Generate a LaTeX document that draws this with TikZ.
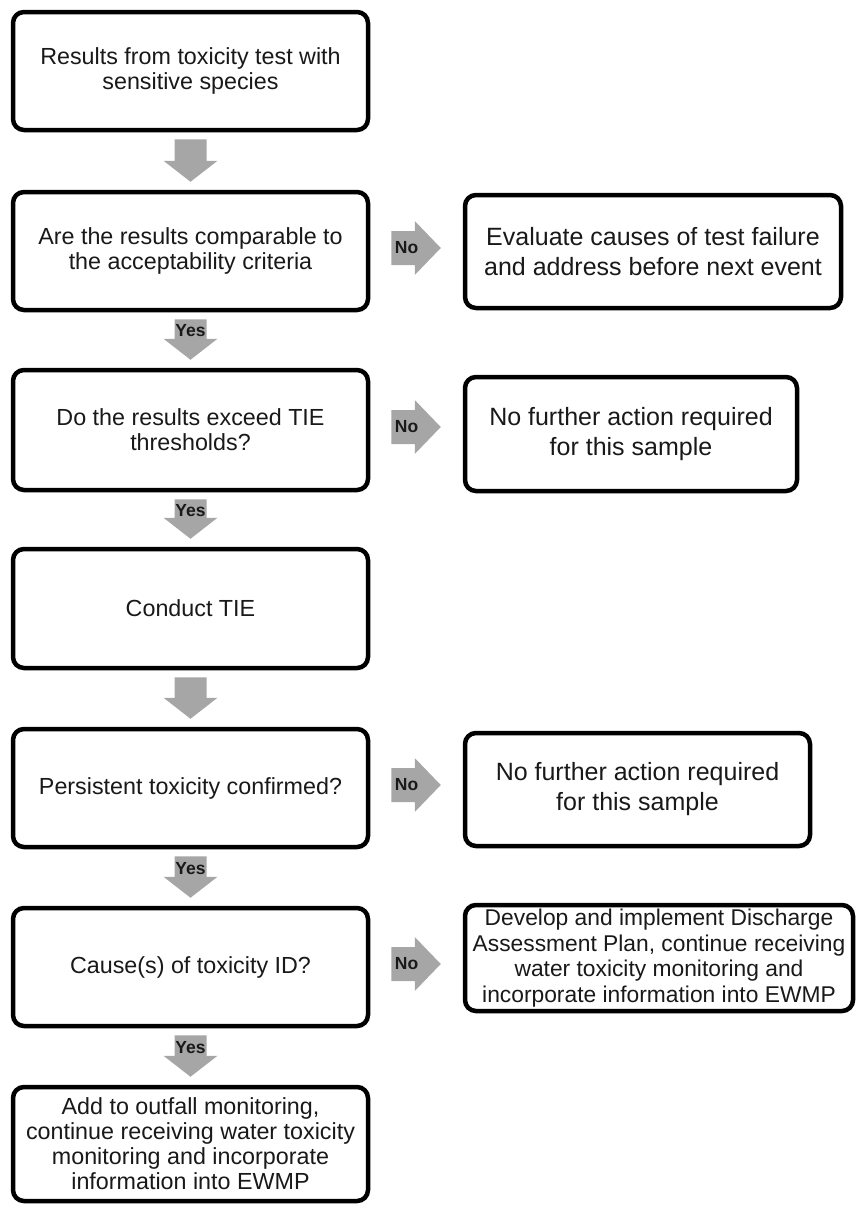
\documentclass[tikz,border=0pt]{standalone}
\usepackage{fontspec}
\setmainfont{Liberation Sans}
\usetikzlibrary{calc}
\definecolor{arrowgray}{RGB}{166,166,166}
\definecolor{txt}{RGB}{25,25,25}
\tikzset{
  boxbase/.style={draw=black, line width=4.5pt, rounded corners=11pt, fill=white, align=center, text=txt, inner sep=2pt},
  lbox/.style={boxbase, minimum width=355pt, minimum height=118pt, font=\fontsize{23.3}{25}\selectfont},
  rbox/.style={boxbase, font=\fontsize{25}{30}\selectfont},
  garrow/.style={fill=arrowgray, draw=none},
  alabel/.style={font=\fontsize{17.5}{17.5}\selectfont\bfseries, text=txt, inner sep=0pt}
}
\newcommand{\downarr}[3]{%
  \coordinate (dS) at ($(#1.south)+(0,7)$);
  \coordinate (dT) at ($(#2.north)+(0,-8)$);
  \coordinate (dH) at ($(dT)+(0,-21)$);
  \fill[garrow] ($(dS)+(-16,0)$) -- ($(dS)+(16,0)$) -- ($(dH)+(16,0)$) -- ($(dH)+(27,0)$) -- (dT) -- ($(dH)+(-27,0)$) -- ($(dH)+(-16,0)$) -- cycle;
  \node[alabel] at ($(dS)!0.6!(dH)$) {#3};
}
\newcommand{\rightarr}[3]{%
  \coordinate (rS) at ($(#1.east)+(21,-3)$);
  \coordinate (rW) at ($(#2.west)+(-22,0)$);
  \coordinate (rT) at (rS -| rW);
  \coordinate (rH) at ($(rT)+(-26,0)$);
  \fill[garrow] ($(rS)+(0,-17)$) -- ($(rH)+(0,-17)$) -- ($(rH)+(0,-27)$) -- (rT) -- ($(rH)+(0,27)$) -- ($(rH)+(0,17)$) -- ($(rS)+(0,17)$) -- cycle;
  \node[alabel] at ($(rS)!0.65!(rH)$) {#3};
}
\begin{document}
\begin{tikzpicture}[x=1pt, y=-1pt]
\useasboundingbox (0,0) rectangle (857,1205);
% left column
\node[lbox] (b1) at (190.5,71) {Results from toxicity test with\\sensitive species};
\node[lbox] (b2) at (190.5,251) {Are the results comparable to\\the acceptability criteria};
\node[lbox, minimum height=120pt] (b3) at (190.5,430) {Do the results exceed TIE\\thresholds?};
\node[lbox, minimum height=119pt] (b4) at (190.5,608.5) {Conduct TIE};
\node[lbox] (b5) at (190.5,788) {Persistent toxicity confirmed?};
\node[lbox] (b6) at (190.5,967) {Cause(s) of toxicity ID?};
\node[lbox, minimum height=114pt] (b7) at (190.5,1144) {Add to outfall monitoring,\\continue receiving water toxicity\\monitoring and incorporate\\information into EWMP};
% right column
\node[rbox, minimum width=376pt, minimum height=113pt] (r1) at (653,251.5) {Evaluate causes of test failure\\and address before next event};
\node[rbox, minimum width=332pt, minimum height=114pt] (r2) at (631,434) {No further action required\\for this sample};
\node[rbox, minimum width=345pt, minimum height=113pt] (r3) at (637.5,789.5) {No further action required\\for this sample};
\node[boxbase, minimum width=388pt, minimum height=106pt, font=\fontsize{22.8}{25.5}\selectfont] (r4) at (659,958) {Develop and implement Discharge\\Assessment Plan, continue receiving\\water toxicity monitoring and\\incorporate information into EWMP};
% connectors
\downarr{b1}{b2}{}
\downarr{b2}{b3}{Yes}
\downarr{b3}{b4}{Yes}
\downarr{b4}{b5}{}
\downarr{b5}{b6}{Yes}
\downarr{b6}{b7}{Yes}
\rightarr{b2}{r1}{No}
\rightarr{b3}{r2}{No}
\rightarr{b5}{r3}{No}
\rightarr{b6}{r4}{No}
\end{tikzpicture}
\end{document}
